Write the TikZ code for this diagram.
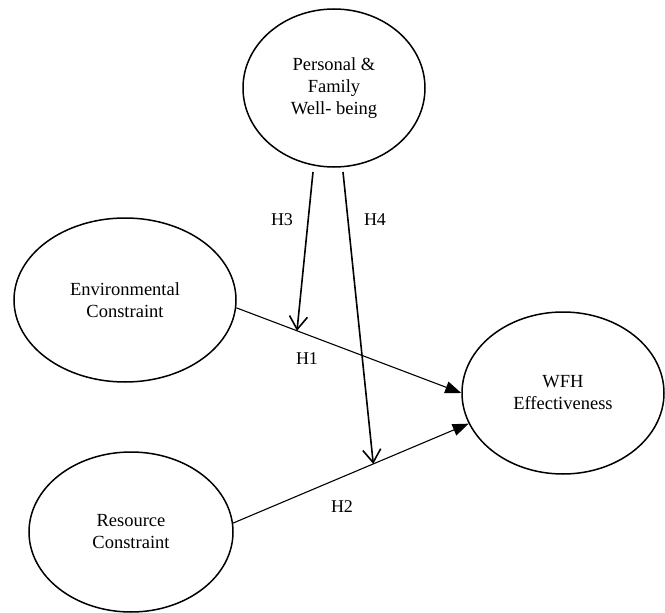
\documentclass[tikz,border=0pt]{standalone}
\usepackage{fontspec}
\setmainfont{Liberation Serif}
\usetikzlibrary{shapes.geometric,arrows.meta}
\begin{document}
\begin{tikzpicture}[x=1pt,y=-1pt,
  construct/.style={draw,ellipse,line width=1.5pt,inner sep=0pt,align=center,
    font=\fontsize{18.5}{22}\selectfont},
  lbl/.style={inner sep=0pt,font=\fontsize{18}{22}\selectfont},
  effect/.style={line width=1.1pt,-{Triangle[length=16pt,width=12pt]}},
  moder/.style={line width=1.6pt,-{Straight Barb[length=13pt,width=18pt]}}]
\useasboundingbox (0,0) rectangle (665,613);
\node[construct,minimum width=182pt,minimum height=158pt] (pfw) at (334,88) {Personal \&\\Family\\Well- being};
\node[construct,minimum width=222pt,minimum height=164pt] (env) at (125,300) {Environmental\\Constraint};
\node[construct,minimum width=204pt,minimum height=160pt] (res) at (131,532) {Resource\\Constraint};
\node[construct,minimum width=202pt,minimum height=162pt] (wfh) at (563,393) {WFH\\Effectiveness};
% direct effects
\draw[effect] (env.-4) -- (wfh.west) coordinate[pos=0.27] (m1);
\draw[effect] (res.5) -- (wfh.198) coordinate[pos=0.595] (m2);
% moderation
\coordinate (h3s) at (313,172);
\coordinate (h4s) at (343,172);
\draw[moder] (h3s) -- (m1);
\draw[moder] (h4s) -- (m2);
% labels
\node[lbl] (lh3) at (282,220) {H3};
\node[lbl] (lh4) at (375,220) {H4};
\node[lbl] (lh1) at (307,359) {H1};
\node[lbl] (lh2) at (342,507) {H2};
\end{tikzpicture}
\end{document}
